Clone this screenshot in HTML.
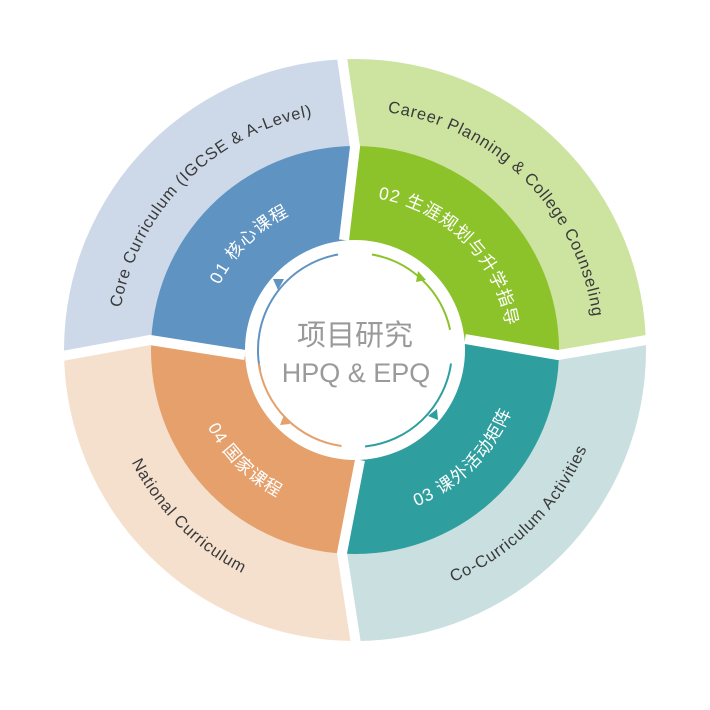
<!DOCTYPE html>
<html><head><meta charset="utf-8"><style>
html,body{margin:0;padding:0;background:#fff;}
svg{display:block}
.o{font-family:"Liberation Sans","Noto Sans CJK SC",sans-serif;font-size:16.5px;fill:#3a3a3a;letter-spacing:0.8px}
.i{font-family:"Liberation Sans","Noto Sans CJK SC",sans-serif;font-size:17.5px;fill:#fff;letter-spacing:1px}
</style></head><body>
<svg width="710" height="710" viewBox="0 0 710 710" xmlns="http://www.w3.org/2000/svg">
<defs>
<clipPath id="co"><circle cx="355" cy="350" r="291"/></clipPath>
<clipPath id="ci"><circle cx="355" cy="350" r="204"/></clipPath>
<path id="p1" d="M148.9,469 A238,238 0 0 1 474,143.9"/>
<path id="p2" d="M235,142.2 A240,240 0 0 1 562.8,470"/>
<path id="p3" d="M229,568.2 A252,252 0 0 0 573.2,224"/>
<path id="p4" d="M138.5,225 A250,250 0 0 0 480,566.5"/>
<path id="q1" d="M225,425 A150,150 0 0 1 430,220.1"/>
<path id="q2" d="M278.5,217.5 A153,153 0 0 1 487.5,426.5"/>
<path id="q3" d="M271,495.5 A168,168 0 0 0 500.5,266"/>
<path id="q4" d="M211.1,267 A166,166 0 0 0 438,493.8"/>
</defs>
<g clip-path="url(#co)">
<polygon fill="#cdd9e9" points="0,366 150,340 354,147 335,0 0,0"/>
<polygon fill="#cde3a0" points="335,0 354,147 558,355 710,329 710,0"/>
<polygon fill="#c9dfe0" points="710,329 558,355 342,553 369,710 710,710"/>
<polygon fill="#f5e0ce" points="369,710 342,553 150,340 0,366 0,710"/>
</g>
<g clip-path="url(#ci)">
<polygon fill="#5f93c2" points="355,350 245,355 150,340 55,325 0,0 366,54 355,147 344,240"/>
<polygon fill="#8cc22a" points="355,350 344,240 355,147 366,54 710,0 651,371 558,355 465,339"/>
<polygon fill="#2e9e9e" points="355,350 465,339 558,355 651,371 710,710 324,646 342,553 360,460"/>
<polygon fill="#e5a06c" points="355,350 360,460 342,553 324,646 0,710 55,325 150,340 245,355"/>
</g>
<g stroke="#fff" stroke-width="10" fill="none" stroke-linejoin="miter">
<polyline points="40,360 150,340 245,355"/>
<polyline points="338,30 355,147 344,240"/>
<polyline points="670,336 558,355 465,339"/>
<polyline points="360,670 342,553 360,460"/>
</g>
<circle cx="355" cy="350" r="110" fill="#fff"/>
<g fill="none" stroke-width="2">
<path stroke="#5f93c2" d="M260.1,370.2 A97,97 0 0 1 338.1,254.5"/>
<path stroke="#8cc22a" d="M371.9,254.5 A97,97 0 0 1 450.1,329.8"/>
<path stroke="#2e9e9e" d="M451,363.5 A97,97 0 0 1 365.1,446.5"/>
<path stroke="#e5a06c" d="M341.5,446 A97,97 0 0 1 258.7,363.5"/>
</g>
<polygon fill="#5f93c2" points="273,279 284,279 278,290"/>
<polygon fill="#8cc22a" points="418,271 426,280 416,282"/>
<polygon fill="#2e9e9e" points="437,409 438,420 428,416"/>
<polygon fill="#e5a06c" points="280,425 284,415 290,424"/>
<text x="355" y="345" text-anchor="middle" font-family="'Liberation Sans','Noto Sans CJK SC',sans-serif" font-size="29" fill="#9a9a9a">项目研究</text>
<text x="356" y="382" text-anchor="middle" font-family="'Liberation Sans','Noto Sans CJK SC',sans-serif" font-size="27" fill="#9a9a9a">HPQ &amp; EPQ</text>
<text class="o"><textPath href="#p1" startOffset="50%" text-anchor="middle">Core Curriculum (IGCSE &amp; A-Level)</textPath></text>
<text class="o"><textPath href="#p2" startOffset="50%" text-anchor="middle">Career Planning &amp; College Counseling</textPath></text>
<text class="o"><textPath href="#p3" startOffset="50%" text-anchor="middle">Co-Curriculum Activities</textPath></text>
<text class="o"><textPath href="#p4" startOffset="50%" text-anchor="middle">National Curriculum</textPath></text>
<text class="i"><textPath href="#q1" startOffset="50%" text-anchor="middle">01 核心课程</textPath></text>
<text class="i"><textPath href="#q2" startOffset="50%" text-anchor="middle">02 生涯规划与升学指导</textPath></text>
<text class="i"><textPath href="#q3" startOffset="50%" text-anchor="middle">03 课外活动矩阵</textPath></text>
<text class="i"><textPath href="#q4" startOffset="50%" text-anchor="middle">04 国家课程</textPath></text>
</svg>
</body></html>
